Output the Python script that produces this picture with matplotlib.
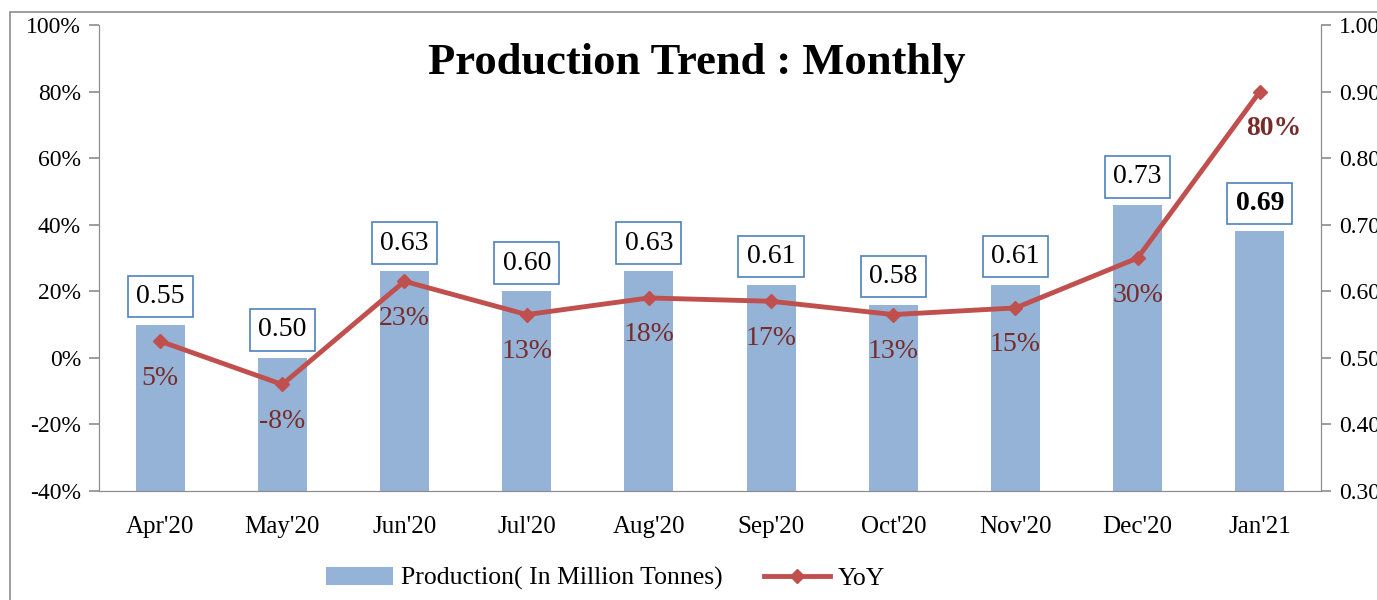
import numpy as np
import matplotlib.pyplot as plt
from matplotlib.patches import Rectangle

months = ["Apr'20", "May'20", "Jun'20", "Jul'20", "Aug'20",
          "Sep'20", "Oct'20", "Nov'20", "Dec'20", "Jan'21"]
production = [0.55, 0.50, 0.63, 0.60, 0.63, 0.61, 0.58, 0.61, 0.73, 0.69]
yoy = [0.05, -0.08, 0.23, 0.13, 0.18, 0.17, 0.13, 0.15, 0.30, 0.80]
yoy_labels = ["5%", "-8%", "23%", "13%", "18%", "17%", "13%", "15%", "30%", "80%"]

plt.rcParams["font.family"] = ["Liberation Serif", "DejaVu Serif"]

grey = "#8c8c8c"
bar_color = "#95b3d7"
line_color = "#c0504d"
label_red = "#772c2a"
box_blue = "#4f81bd"

fig = plt.figure(figsize=(13.77, 6), dpi=100)
ax = fig.add_axes([0.0719, 0.1817, 0.8874, 0.7766])
ax2 = ax.twinx()

x = np.arange(len(months))

# bars on the right axis
ax2.bar(x, production, width=0.4, color=bar_color, zorder=1,
        label="Production( In Million Tonnes)")
ax2.set_ylim(0.30, 1.00)
ax2.set_yticks(np.arange(0.30, 1.001, 0.10))
ax2.set_yticklabels(["%.2f" % v for v in np.arange(0.30, 1.001, 0.10)])

for i, v in enumerate(production):
    ax2.annotate("%.2f" % v, (x[i], v), xytext=(0, 28), textcoords="offset pixels",
                 ha="center", va="center", fontsize=20,
                 fontweight="bold" if i == len(production) - 1 else "normal",
                 bbox=dict(boxstyle="square,pad=0.3", fc="white", ec=box_blue, lw=1.2),
                 zorder=5)

# line on the left axis, drawn above bars
ax.set_zorder(ax2.get_zorder() + 1)
ax.patch.set_visible(False)
ax.plot(x, yoy, color=line_color, lw=3.5, marker="D", markersize=7,
        label="YoY", zorder=4)
ax.set_ylim(-0.40, 1.00)
ax.set_yticks(np.arange(-0.40, 1.001, 0.20))
ax.set_yticklabels(["%d%%" % round(v * 100) for v in np.arange(-0.40, 1.001, 0.20)])

for i, v in enumerate(yoy):
    if i == len(yoy) - 1:
        ax.annotate(yoy_labels[i], (x[i], v), xytext=(14, -37), textcoords="offset pixels",
                    ha="center", va="center", fontsize=20, color=label_red, fontweight="bold")
    else:
        ax.annotate(yoy_labels[i], (x[i], v), xytext=(0, -37), textcoords="offset pixels",
                    ha="center", va="center", fontsize=20, color=label_red)

ax.set_xlim(-0.5, len(months) - 0.5)
ax.set_xticks(x)
ax.set_xticklabels(months)

for a in (ax, ax2):
    for s in a.spines.values():
        s.set_color(grey)
    a.spines["top"].set_visible(False)
    a.tick_params(axis="y", labelsize=17, color=grey, length=7, width=1.2, pad=6)
    a.tick_params(axis="x", length=0, pad=18, labelsize=18)

fig.text(0.506, 0.895, "Production Trend : Monthly", ha="center", va="center",
         fontsize=32, fontweight="bold")

h1, l1 = ax2.get_legend_handles_labels()
h2, l2 = ax.get_legend_handles_labels()
fig.legend(h1 + h2, l1 + l2, loc="center", bbox_to_anchor=(0.44, 0.036),
           ncol=2, frameon=False, fontsize=18.5, handlelength=2.6,
           handletextpad=0.3, columnspacing=1.6)

fig.patches.append(Rectangle((10 / 1377, -0.1), 1.2, 1 - 12 / 600 + 0.1, fill=False,
                             ec=grey, lw=1.2, transform=fig.transFigure))

plt.savefig("out.png", dpi=100)
